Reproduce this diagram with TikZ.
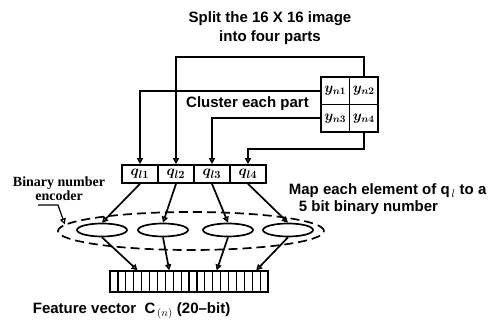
\documentclass[tikz,border=0pt]{standalone}
\usepackage{fontspec}
\usetikzlibrary{arrows.meta, shapes.geometric}
\newfontfamily\headfont{Liberation Sans}
\newfontfamily\encfont{Liberation Serif}

\begin{document}
\begin{tikzpicture}[x=1pt,y=-1pt,line width=1.7pt,
  every node/.style={inner sep=0pt},
  lbl/.style={font=\headfont\bfseries\fontsize{15}{19}\selectfont,align=center},
  ycell/.style={draw,minimum width=28.5pt,minimum height=27.5pt,font=\boldmath\fontsize{14}{14}\selectfont},
  qcell/.style={draw,minimum width=36pt,minimum height=18pt,font=\boldmath\fontsize{15}{15}\selectfont},
  encell/.style={draw,ellipse,minimum width=50pt,minimum height=13pt},
  bitcell/.style={draw,minimum width=7.9pt,minimum height=21pt,line width=1.2pt},
  arr/.style={-{Triangle[open,length=6pt,width=6pt]}}]
  \useasboundingbox (0,0) rectangle (491,323);
  % splitting the image
  \node[lbl] (title) at (270,28.5) {Split the 16 X 16 image\\into four parts};
  \node[ycell] (yn1) at (335.25,90.75) {$y_{n1}$};
  \node[ycell] (yn2) at (363.75,90.75) {$y_{n2}$};
  \node[ycell] (yn3) at (335.25,118.25) {$y_{n3}$};
  \node[ycell] (yn4) at (363.75,118.25) {$y_{n4}$};
  \node[lbl] (clus) at (247.5,104) {Cluster each part};
  % clustered parts
  \foreach \i in {1,...,4}
    \node[qcell] (q\i) at ({104+36*\i},174) {$q_{l\i}$};
  \draw[arr] (yn1.west) -| (q1.north);
  \draw[arr] (yn2.north) -- ++(0,-19) -| (q2.north);
  \draw[arr] (yn3.west) -| (q3.north);
  \draw[arr] (yn4.south) -- ++(0,16) -| (q4.north);
  % binary number encoder
  \node[draw,ellipse,dash pattern=on 9pt off 5pt,minimum width=266pt,minimum height=38pt] (bigell) at (191,231) {};
  \node[encell] (e1) at (102,230) {};
  \node[encell] (e2) at (163,230) {};
  \node[encell] (e3) at (228,230) {};
  \node[encell] (e4) at (288,230) {};
  \foreach \i in {1,...,4}
    \draw[arr] (q\i.south) -- (e\i.north);
  \node[font=\encfont\bfseries\fontsize{14}{14}\selectfont,align=center] (enclbl) at (59,189) {Binary number\\encoder};
  \coordinate (lead) at (38,205);
  \draw[arr,line width=1.2pt] (lead) -- ++(20,0) -- (bigell.177);
  \node[lbl,align=left,anchor=west,font=\headfont\bfseries\fontsize{15}{17}\selectfont] (maptxt) at (288,199.5)
    {Map each element of q$_{\,l}$ to a\\\hspace*{10pt}5 bit binary number};
  % feature vector
  \foreach \i in {1,...,20}
    \node[bitcell] (f\i) at ({110+7.9*(\i-0.5)},281.5) {};
  \draw (f1.north west) rectangle (f20.south east);
  \draw[arr] (e1.south) -- (f4.north);
  \draw[arr] (e2.south) -- (f8.north);
  \draw[arr] (e3.south) -- (f14.north);
  \draw[arr] (e4.south) -- (f19.north);
  \node[lbl,anchor=west] (feat) at (32,311) {Feature vector \ C$_{\,(n)}$ (20–bit)};
\end{tikzpicture}
\end{document}
